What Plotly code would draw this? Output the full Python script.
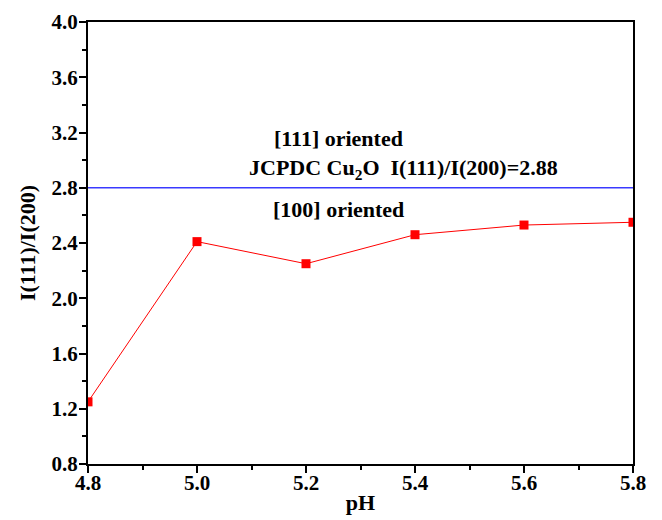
import plotly.graph_objects as go

ph = [4.8, 5.0, 5.2, 5.4, 5.6, 5.8]
ratio = [1.25, 2.41, 2.25, 2.46, 2.53, 2.55]
ref_value = 2.8
x_ticks = [4.8, 5.0, 5.2, 5.4, 5.6, 5.8]
y_ticks = [0.8, 1.2, 1.6, 2.0, 2.4, 2.8, 3.2, 3.6, 4.0]

FONT = "Liberation Serif"

fig = go.Figure()
fig.add_trace(go.Scatter(
    x=[4.8, 5.8], y=[ref_value, ref_value], mode="lines",
    line=dict(color="#3a3aff", width=1.3), showlegend=False))
fig.add_trace(go.Scatter(
    x=ph, y=ratio, mode="lines+markers",
    line=dict(color="#ff0000", width=1),
    marker=dict(symbol="square", size=9, color="#ff0000"),
    showlegend=False))

axis_common = dict(
    showgrid=False, zeroline=False, showline=True, linecolor="black",
    linewidth=2, mirror=True, ticks="outside", ticklen=7, tickwidth=1.5,
    tickcolor="black", automargin=False,
    tickfont=dict(family=FONT, size=21, color="black"),
    minor=dict(ticks="outside", ticklen=4, tickwidth=1.5, tickcolor="black"),
)

fig.update_xaxes(range=[4.8, 5.8], tickvals=x_ticks,
                 ticktext=[f"<b>{v:.1f}</b>" for v in x_ticks],
                 minor_dtick=0.1, ticklabelstandoff=-8,
                 title=dict(text="<b>pH</b>", standoff=0,
                            font=dict(family=FONT, size=22, color="black")),
                 **axis_common)
fig.update_yaxes(range=[0.8, 4.0], tickvals=y_ticks,
                 ticktext=[f"<b>{v:.1f}</b>" for v in y_ticks],
                 minor_dtick=0.2, ticklabelstandoff=-3,
                 title=dict(text="<b>I(111)/I(200)</b>", standoff=10,
                            font=dict(family=FONT, size=22, color="black")),
                 **axis_common)

ann_font = dict(family=FONT, size=22, color="black")
fig.add_annotation(x=5.259, y=3.153, xref="x", yref="y", showarrow=False,
                   text="<b>[111] oriented</b>", font=ann_font)
fig.add_annotation(x=5.378, y=2.936, xref="x", yref="y", showarrow=False,
                   text="<b>JCPDC Cu<sub>2</sub>O  I(111)/I(200)=2.88</b>", font=ann_font)
fig.add_annotation(x=5.259, y=2.639, xref="x", yref="y", showarrow=False,
                   text="<b>[100] oriented</b>", font=ann_font)

fig.update_layout(
    width=662, height=520,
    margin=dict(l=80, r=37, t=14, b=64),
    paper_bgcolor="white", plot_bgcolor="white",
    font=dict(family=FONT),
)

fig.write_html("out.html")
